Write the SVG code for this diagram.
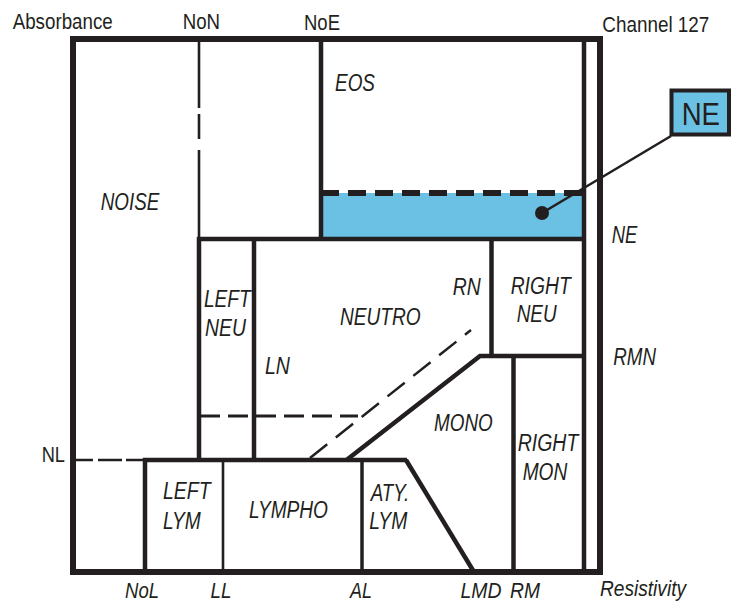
<svg xmlns="http://www.w3.org/2000/svg" width="731" height="601" viewBox="0 0 731 601">
<style>
  .bg { fill: #ffffff; }
  .ln { fill: none; stroke: #231f20; stroke-linecap: butt; }
  .outer { stroke-width: 6; }
  .thick { stroke-width: 4.5; }
  .mid { stroke-width: 3.5; }
  .thin { stroke-width: 2.6; }
  .dash-big { stroke-dasharray: 18 9; stroke-width: 6; }
  .dash { stroke-dasharray: 20 8; stroke-width: 3; }
  .dash-thin { stroke-dasharray: 22 11; stroke-width: 2.5; }
  .blue { fill: #6bc1e4; }
  .lbl { font-family: "Liberation Sans", Arial, sans-serif; font-size: 22px; fill: #231f20; }
  .it { font-family: "Liberation Sans", Arial, sans-serif; font-size: 23.5px; font-style: italic; fill: #231f20; }
  .ax { font-family: "Liberation Sans", Arial, sans-serif; font-size: 22.5px; font-style: italic; fill: #231f20; }
  .big { font-family: "Liberation Sans", Arial, sans-serif; font-size: 32px; fill: #231f20; }
</style>
<rect class="bg" x="0" y="0" width="731" height="601"/>

<g id="axis-labels">
  <text class="lbl" x="12.7" y="29.3" textLength="100" lengthAdjust="spacingAndGlyphs">Absorbance</text>
  <text class="lbl" x="182.7" y="29.3" textLength="37.3" lengthAdjust="spacingAndGlyphs">NoN</text>
  <text class="lbl" x="304" y="30" textLength="36" lengthAdjust="spacingAndGlyphs">NoE</text>
  <text class="lbl" x="602.3" y="32.3" textLength="107" lengthAdjust="spacingAndGlyphs">Channel 127</text>
  <text class="lbl" x="41.7" y="461.7" textLength="23.3" lengthAdjust="spacingAndGlyphs">NL</text>
  <text class="it" x="611.7" y="243.3" textLength="25.6" lengthAdjust="spacingAndGlyphs">NE</text>
  <text class="it" x="613.3" y="365" textLength="42.7" lengthAdjust="spacingAndGlyphs">RMN</text>
  <text class="ax" x="125" y="597.5" textLength="34" lengthAdjust="spacingAndGlyphs">NoL</text>
  <text class="ax" x="210.5" y="597.5" textLength="21" lengthAdjust="spacingAndGlyphs">LL</text>
  <text class="ax" x="350" y="597.5" textLength="22" lengthAdjust="spacingAndGlyphs">AL</text>
  <text class="ax" x="460.5" y="597.5" textLength="41" lengthAdjust="spacingAndGlyphs">LMD</text>
  <text class="ax" x="510" y="597.5" textLength="30" lengthAdjust="spacingAndGlyphs">RM</text>
  <text class="ax" x="600" y="596" textLength="86" lengthAdjust="spacingAndGlyphs">Resistivity</text>
</g>

<g id="ne-region">
  <rect class="blue" x="321" y="193" width="263" height="46"/>
</g>

<g id="connectors">
  <rect class="ln outer" x="73" y="39" width="527" height="533"/>
  <line class="ln thick" x1="584" y1="39" x2="584" y2="572"/>
  <line class="ln thin" x1="199" y1="42" x2="199" y2="108"/>
  <line class="ln thin" x1="199" y1="114" x2="199" y2="139"/>
  <line class="ln thin" x1="199" y1="150" x2="199" y2="239"/>
  <line class="ln thick" x1="321" y1="39" x2="321" y2="239"/>
  <line class="ln dash-big" x1="321" y1="193" x2="584" y2="193"/>
  <line class="ln thick" x1="197" y1="239" x2="584" y2="239"/>
  <line class="ln thick" x1="199" y1="237" x2="199" y2="460"/>
  <line class="ln thick" x1="254" y1="239" x2="254" y2="460"/>
  <line class="ln dash" x1="200" y1="416" x2="358" y2="416"/>
  <line class="ln thin" x1="76" y1="460" x2="143" y2="460" stroke-dasharray="17 5 24 4"/>
  <line class="ln thick" x1="143" y1="460" x2="407" y2="460"/>
  <line class="ln thick" x1="145" y1="458" x2="145" y2="572"/>
  <line class="ln thin" x1="223" y1="460" x2="223" y2="572"/>
  <line class="ln mid" x1="362" y1="460" x2="362" y2="572"/>
  <line class="ln thick" x1="406" y1="460" x2="474" y2="572"/>
  <polyline class="ln thick" points="346.5,460 480,356 584,356"/>
  <line class="ln thick" x1="491.5" y1="239" x2="491.5" y2="356"/>
  <line class="ln thick" x1="513.5" y1="356" x2="513.5" y2="572"/>
  <line class="ln dash-thin" x1="310" y1="458" x2="471" y2="330"/>
  <line class="ln" stroke-width="2.6" x1="671" y1="136" x2="542" y2="213"/>
  <circle cx="542" cy="213" r="7" fill="#231f20"/>
</g>

<g id="ne-box">
  <rect class="blue" x="671.5" y="90.5" width="57.5" height="44" stroke="#231f20" stroke-width="4"/>
  <text class="big" x="681.7" y="125" textLength="38.3" lengthAdjust="spacingAndGlyphs">NE</text>
</g>

<g id="eos"><text class="it" x="335" y="90.7" textLength="40" lengthAdjust="spacingAndGlyphs">EOS</text></g>
<g id="noise"><text class="it" x="100.7" y="210" textLength="58.6" lengthAdjust="spacingAndGlyphs">NOISE</text></g>
<g id="left-neu">
  <text class="it" x="204" y="307.3" textLength="46.7" lengthAdjust="spacingAndGlyphs">LEFT</text>
  <text class="it" x="205" y="336" textLength="41" lengthAdjust="spacingAndGlyphs">NEU</text>
</g>
<g id="neutro">
  <text class="it" x="340" y="325" textLength="80.7" lengthAdjust="spacingAndGlyphs">NEUTRO</text>
  <text class="it" x="452.7" y="295" textLength="28" lengthAdjust="spacingAndGlyphs">RN</text>
  <text class="it" x="265" y="374" textLength="25" lengthAdjust="spacingAndGlyphs">LN</text>
</g>
<g id="right-neu">
  <text class="it" x="510.7" y="294.3" textLength="60" lengthAdjust="spacingAndGlyphs">RIGHT</text>
  <text class="it" x="516.7" y="321.7" textLength="40" lengthAdjust="spacingAndGlyphs">NEU</text>
</g>
<g id="mono"><text class="it" x="434" y="431" textLength="58.7" lengthAdjust="spacingAndGlyphs">MONO</text></g>
<g id="right-mon">
  <text class="it" x="517.7" y="451" textLength="60.6" lengthAdjust="spacingAndGlyphs">RIGHT</text>
  <text class="it" x="522.7" y="480" textLength="44.6" lengthAdjust="spacingAndGlyphs">MON</text>
</g>
<g id="left-lym">
  <text class="it" x="163" y="499.3" textLength="47.7" lengthAdjust="spacingAndGlyphs">LEFT</text>
  <text class="it" x="163" y="529.3" textLength="37.7" lengthAdjust="spacingAndGlyphs">LYM</text>
</g>
<g id="lympho"><text class="it" x="249" y="518.3" textLength="79" lengthAdjust="spacingAndGlyphs">LYMPHO</text></g>
<g id="aty-lym">
  <text class="it" x="370.7" y="500.7" textLength="38.6" lengthAdjust="spacingAndGlyphs">ATY.</text>
  <text class="it" x="369.3" y="529.3" textLength="38" lengthAdjust="spacingAndGlyphs">LYM</text>
</g>
</svg>
